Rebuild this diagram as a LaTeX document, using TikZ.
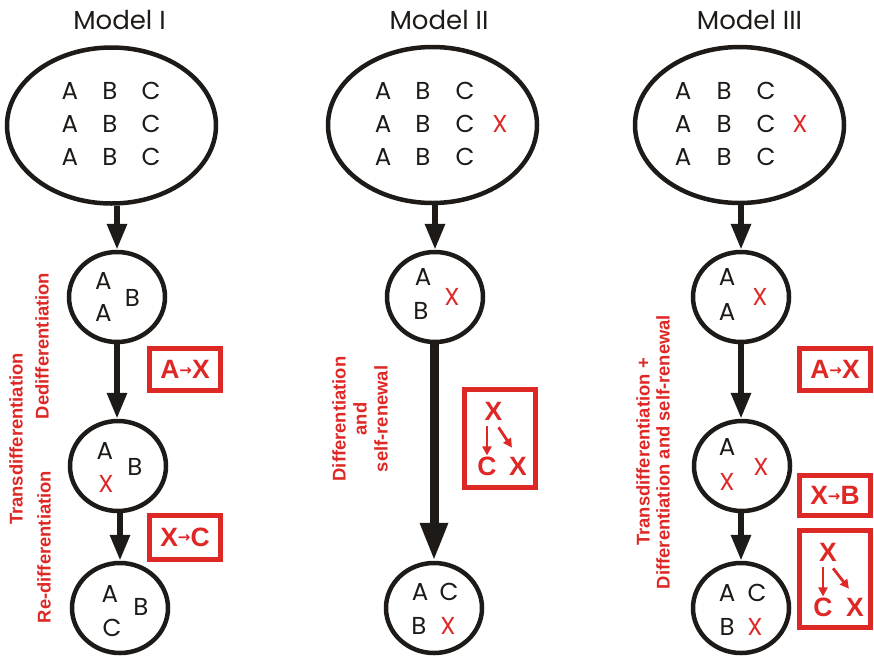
\documentclass[tikz,border=0pt]{standalone}
\usepackage{fontspec}
\setmainfont{Poppins}
\newfontfamily\rsans{Liberation Sans}
\newfontfamily\arrowfont{DejaVu Sans}
\usetikzlibrary{arrows.meta,shapes.geometric,calc}
\definecolor{myred}{RGB}{222,40,38}
\definecolor{ink}{RGB}{30,26,23}
\newcommand{\smallarr}{{\arrowfont\bfseries\fontsize{15}{15}\selectfont\raisebox{3.5pt}{→}}}
\begin{document}
\begin{tikzpicture}[x=1pt,y=-1pt,
  title/.style={font=\fontsize{26}{30}\selectfont, text=ink, inner sep=0pt},
  let/.style={font=\fontsize{24.5}{28}\selectfont, text=ink, inner sep=0pt},
  rlet/.style={let, text=myred},
  bigell/.style={ellipse, draw=ink, line width=4.5pt, minimum width=209pt, minimum height=156pt, inner sep=0pt},
  cell/.style={ellipse, draw=ink, line width=4.5pt, minimum width=96pt, minimum height=90pt, inner sep=0pt},
  flow/.style={draw=ink, line width=6pt, -{Triangle[width=19pt,length=26pt]}},
  bigflow/.style={draw=ink, line width=9pt, -{Triangle[width=26pt,length=38pt]}},
  rbox/.style={draw=myred, line width=5pt, minimum width=71pt, inner sep=0pt},
  rtxt/.style={font=\rsans\bfseries\fontsize{18.4}{21}\selectfont, text=myred, rotate=90, align=center, inner sep=0pt},
  btxt/.style={font=\rsans\bfseries\fontsize{26.5}{28}\selectfont, text=myred, inner sep=0pt},
  rarrow/.style={draw=myred, line width=2.8pt, -{Triangle[width=9pt,length=9pt]}},
]
\useasboundingbox (0,0) rectangle (874,657);

% ---------------- Model I ----------------
\node[title] (t1) at (119.5,20) {Model I};
\node[bigell] (e1) at (111.5,125.5) {};
\foreach \r/\yy in {1/91,2/124,3/157}{
  \node[let] (e1a\r) at (70,\yy) {A};
  \node[let] (e1b\r) at (110,\yy) {B};
  \node[let] (e1c\r) at (151,\yy) {C};
}
\node[cell] (m1c1) at (117,297) {};
\node[let] (m1c1a) at (103.5,281) {A};
\node[let] (m1c1b) at (103.5,313) {A};
\node[let] (m1c1c) at (132.5,298) {B};
\node[cell] (m1c2) at (118,466) {};
\node[let] (m1c2a) at (105,451) {A};
\node[rlet] (m1c2b) at (106,484) {X};
\node[let] (m1c2c) at (135,467) {B};
\node[cell] (m1c3) at (120,608) {};
\node[let] (m1c3a) at (110,594) {A};
\node[let] (m1c3b) at (112,628) {C};
\node[let] (m1c3c) at (141,607) {B};
\draw[flow] (e1.south -| m1c1.north) -- (m1c1.north);
\draw[flow] (m1c1.south) -- (m1c1.south |- m1c2.north);
\draw[flow] (m1c2.south -| m1c3.north) -- (m1c3.north);
\node[rbox, minimum height=42pt] (m1b1) at (185,369.5) {};
\node[btxt] (m1b1t) at (m1b1) {A\smallarr X};
\node[rbox, minimum height=44pt] (m1b2) at (185,537) {};
\node[btxt] (m1b2t) at (m1b2) {X\smallarr C};
\node[rtxt] (m1l1) at (16,439) {Transdifferentiation};
\node[rtxt] (m1l2) at (42,346) {Dedifferentiation};
\node[rtxt] (m1l3) at (44,547) {Re-differentiation};

% ---------------- Model II ----------------
\node[title] (t2) at (439,20) {Model II};
\node[bigell] (e2) at (432.5,125) {};
\foreach \r/\yy in {1/91,2/124,3/157}{
  \node[let] (e2a\r) at (383,\yy) {A};
  \node[let] (e2b\r) at (423,\yy) {B};
  \node[let] (e2c\r) at (465,\yy) {C};
}
\node[rlet] (e2x) at (500,124) {X};
\node[cell] (m2c1) at (435,297) {};
\node[let] (m2c1a) at (423,277) {A};
\node[let] (m2c1b) at (421,311) {B};
\node[rlet] (m2c1c) at (452,297) {X};
\node[cell] (m2c2) at (434,608) {};
\node[let] (m2c2a) at (420,592) {A};
\node[let] (m2c2b) at (449,592) {C};
\node[let] (m2c2c) at (419,626) {B};
\node[rlet] (m2c2d) at (448,626) {X};
\draw[flow] (e2.south -| m2c1.north) -- (m2c1.north);
\draw[bigflow] (m2c1.south -| m2c2.north) -- (m2c2.north);
\node[rbox, minimum height=98pt] (m2b1) at (500,438.5) {};
\node[btxt] (m2bx1) at (493.5,411) {X};
\node[btxt] (m2bc) at (487,466) {C};
\node[btxt] (m2bx2) at (518,466) {X};
\draw[rarrow, shorten <=6pt, shorten >=1pt] (m2bx1.south -| m2bc.north) -- (m2bc.north);
\draw[rarrow] ($(m2bx1.south east)+(-4,7)$) -- ($(m2bx2.north west)+(3,-9)$);
\node[rtxt] (m2l) at (360,419) {Differentiation\\and\\self-renewal};

% ---------------- Model III ----------------
\node[title] (t3) at (749.5,20) {Model III};
\node[bigell] (e3) at (739.5,125) {};
\foreach \r/\yy in {1/91,2/124,3/157}{
  \node[let] (e3a\r) at (683,\yy) {A};
  \node[let] (e3b\r) at (724,\yy) {B};
  \node[let] (e3c\r) at (766,\yy) {C};
}
\node[rlet] (e3x) at (800,124) {X};
\node[cell] (m3c1) at (741,297) {};
\node[let] (m3c1a) at (727,277) {A};
\node[let] (m3c1b) at (727,312) {A};
\node[rlet] (m3c1c) at (760,297) {X};
\node[cell] (m3c2) at (742,466) {};
\node[let] (m3c2a) at (727,447) {A};
\node[rlet] (m3c2b) at (727,482) {X};
\node[rlet] (m3c2c) at (761,467) {X};
\node[cell] (m3c3) at (741,608) {};
\node[let] (m3c3a) at (727,593) {A};
\node[let] (m3c3b) at (757,593) {C};
\node[let] (m3c3c) at (727,627) {B};
\node[rlet] (m3c3d) at (755,627) {X};
\draw[flow] (e3.south -| m3c1.north) -- (m3c1.north);
\draw[flow] (m3c1.south) -- (m3c1.south |- m3c2.north);
\draw[flow] (m3c2.south -| m3c3.north) -- (m3c3.north);
\node[rbox, minimum height=42pt] (m3b1) at (835,369.5) {};
\node[btxt] (m3b1t) at (m3b1) {A\smallarr X};
\node[rbox, minimum height=40pt] (m3b2) at (835,495.5) {};
\node[btxt] (m3b2t) at (m3b2) {X\smallarr B};
\node[rbox, minimum height=97pt] (m3b3) at (835,579) {};
\node[btxt] (m3bx1) at (828,552) {X};
\node[btxt] (m3bc) at (823,607) {C};
\node[btxt] (m3bx2) at (855,607) {X};
\draw[rarrow, shorten <=6pt, shorten >=1pt] (m3bx1.south -| m3bc.north) -- (m3bc.north);
\draw[rarrow] ($(m3bx1.south east)+(-4,7)$) -- ($(m3bx2.north west)+(3,-9)$);
\node[rtxt, font=\rsans\bfseries\fontsize{18.4}{20}\selectfont] (m3l) at (653,452) {Transdifferentiation +\\Differentiation and self-renewal};
\end{tikzpicture}
\end{document}
